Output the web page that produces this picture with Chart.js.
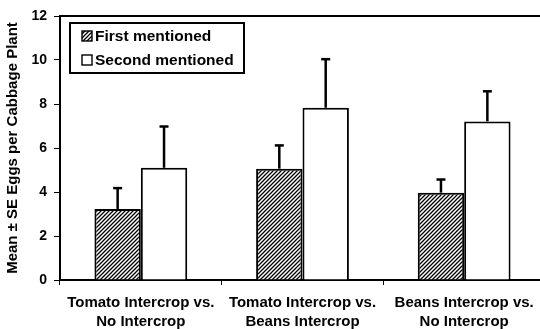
<!DOCTYPE html>
<html>
<head>
<meta charset="utf-8">
<script src="https://cdn.jsdelivr.net/npm/chart.js@4/dist/chart.umd.min.js"></script>
<style>
  html, body { margin: 0; padding: 0; background: #fff; overflow: hidden; }
  #wrap { width: 548px; height: 329px; position: relative; }
</style>
</head>
<body>
<div id="wrap"><canvas id="c"></canvas></div>
<script>
const categories = [
  ["Tomato Intercrop vs.", "No Intercrop"],
  ["Tomato Intercrop vs.", "Beans Intercrop"],
  ["Beans Intercrop vs.", "No Intercrop"]
];
const seriesNames = ["First mentioned", "Second mentioned"];
const firstMentioned = [3.23, 5.06, 3.97];
const firstSE = [0.97, 1.08, 0.62];
const secondMentioned = [5.1, 7.83, 7.21];
const secondSE = [1.9, 2.23, 1.39];
const yTicks = [0, 2, 4, 6, 8, 10, 12];

const FONT = '"Liberation Sans", Arial, sans-serif';

function makeHatch() {
  const p = document.createElement('canvas');
  p.width = 4; p.height = 4;
  const g = p.getContext('2d');
  g.fillStyle = '#fff';
  g.fillRect(0, 0, 4, 4);
  g.strokeStyle = '#000';
  g.lineWidth = 1.3;
  g.beginPath();
  g.moveTo(-1, 5); g.lineTo(5, -1);
  g.moveTo(-3, 3); g.lineTo(3, -3);
  g.moveTo(1, 7); g.lineTo(7, 1);
  g.stroke();
  return document.getElementById('c').getContext('2d').createPattern(p, 'repeat');
}
const hatch = makeHatch();

const errors = [firstSE, secondSE];

const errorBarPlugin = {
  id: 'errorBars',
  afterDatasetsDraw(chart) {
    const ctx = chart.ctx;
    const y = chart.scales.y;
    ctx.save();
    ctx.strokeStyle = '#000';
    ctx.lineCap = 'butt';
    chart.data.datasets.forEach((ds, di) => {
      const meta = chart.getDatasetMeta(di);
      meta.data.forEach((bar, i) => {
        const top = y.getPixelForValue(ds.data[i] + errors[di][i]);
        ctx.lineWidth = 2.5;
        ctx.beginPath();
        ctx.moveTo(bar.x, bar.y);
        ctx.lineTo(bar.x, top);
        ctx.stroke();
        ctx.beginPath();
        ctx.moveTo(bar.x - 4.5, top + 0.5);
        ctx.lineTo(bar.x + 4.5, top + 0.5);
        ctx.stroke();
      });
    });
    ctx.restore();
  }
};

const framePlugin = {
  id: 'frameAndLegend',
  afterDraw(chart) {
    const ctx = chart.ctx;
    const a = chart.chartArea;
    ctx.save();
    ctx.strokeStyle = '#000';
    ctx.lineWidth = 2;
    ctx.beginPath();
    ctx.moveTo(a.left - 1, a.top);
    ctx.lineTo(a.right, a.top);
    ctx.stroke();
    const bx = a.left + 10, by = a.top + 7, bw = 174, bh = 50;
    ctx.fillStyle = '#fff';
    ctx.fillRect(bx, by, bw, bh);
    ctx.lineWidth = 2;
    ctx.strokeRect(bx, by, bw, bh);
    chart.data.datasets.forEach((ds, i) => {
      const cy = by + 13 + i * 24;
      const sx = bx + 12;
      ctx.fillStyle = ds.backgroundColor;
      ctx.fillRect(sx, cy - 5, 10, 10);
      ctx.lineWidth = 1.4;
      ctx.strokeStyle = '#000';
      ctx.strokeRect(sx, cy - 5, 10, 10);
      ctx.fillStyle = '#000';
      ctx.font = 'bold 15.5px ' + FONT;
      ctx.textAlign = 'left';
      ctx.textBaseline = 'middle';
      ctx.fillText(ds.label, bx + 25, cy + 1);
    });
    ctx.restore();
  }
};

new Chart(document.getElementById('c'), {
  type: 'bar',
  data: {
    labels: categories,
    datasets: [
      {
        label: seriesNames[0],
        data: firstMentioned,
        backgroundColor: hatch,
        borderColor: '#000',
        borderWidth: 2,
        barPercentage: 1,
        categoryPercentage: 0.574
      },
      {
        label: seriesNames[1],
        data: secondMentioned,
        backgroundColor: '#ffffff',
        borderColor: '#000',
        borderWidth: 2,
        barPercentage: 1,
        categoryPercentage: 0.574
      }
    ]
  },
  options: {
    responsive: true,
    maintainAspectRatio: false,
    animation: false,
    layout: { padding: { left: 0, top: 16, right: 3, bottom: 0 } },
    plugins: {
      legend: { display: false },
      tooltip: { enabled: false }
    },
    scales: {
      x: {
        grid: {
          display: true,
          drawOnChartArea: false,
          drawTicks: true,
          tickLength: 5,
          color: '#000',
          lineWidth: 1,
          offset: true
        },
        border: { display: true, color: '#000', width: 2 },
        ticks: {
          color: '#000',
          padding: 8,
          maxRotation: 0,
          autoSkip: false,
          font: { family: FONT, size: 15, weight: 'bold', lineHeight: 1.27 }
        },
        afterFit(scale) { scale.height = 49; }
      },
      y: {
        min: 0,
        max: 12,
        afterBuildTicks(scale) { scale.ticks = yTicks.map(v => ({ value: v })); },
        grid: {
          display: true,
          drawOnChartArea: false,
          drawTicks: true,
          tickLength: 6,
          color: '#000',
          lineWidth: 1
        },
        border: { display: true, color: '#000', width: 2 },
        ticks: {
          color: '#000',
          padding: 7,
          font: { family: FONT, size: 14, weight: 'bold' }
        },
        title: {
          display: true,
          text: 'Mean ± SE Eggs per Cabbage Plant',
          color: '#000',
          padding: { top: 4, bottom: 0 },
          font: { family: FONT, size: 15, weight: 'bold' }
        },
        afterFit(scale) { scale.width = 60; }
      }
    }
  },
  plugins: [errorBarPlugin, framePlugin]
});
</script>
</body>
</html>
